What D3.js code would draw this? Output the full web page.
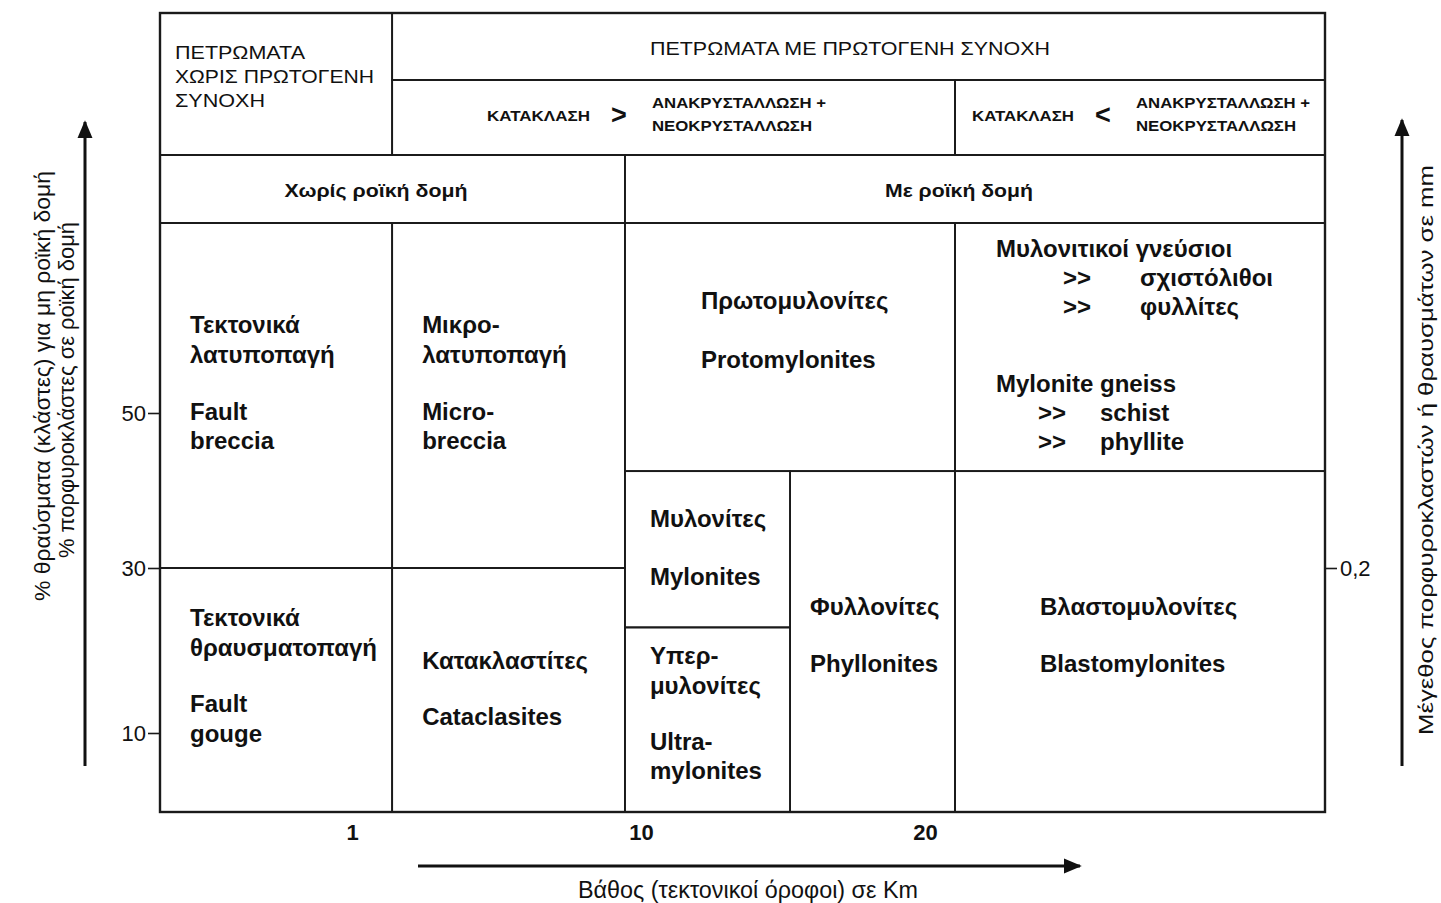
<!DOCTYPE html>
<html><head><meta charset="utf-8">
<script src="https://cdn.jsdelivr.net/npm/d3@7/dist/d3.min.js"></script>
<style>
body{margin:0;background:#fff}
text{font-family:"Liberation Sans",Arial,Helvetica,sans-serif;fill:#111}
</style>
</head><body>
<svg id="c" width="1441" height="903"></svg>
<script>
// ---------- DATA ----------
const depthTicks = [1, 10, 20];                 // km (bottom axis labels)
const pctTicks = [10, 30, 50];                  // % clasts (left axis)
const sizeTicks = [30];                         // right axis tick position (in % scale)
const sizeTickLabels = ["0,2"];                 // mm
const depthEdges = [0, 2.25, 9.5, 15.25, 20.75, 30];   // column boundaries, km
const pctEdges = [0, 22.8, 30, 42.5, 75];              // row boundaries, %

const xTitle = "Βάθος (τεκτονικοί όροφοι) σε Km";
const yTitle1 = "% θραύσματα (κλάστες) για μη ροϊκή δομή";
const yTitle2 = "% πορφυροκλάστες σε ροϊκή δομή";
const y2Title = "Μέγεθος πορφυροκλαστών ή θραυσμάτων σε mm";

// classification cells: depth range (km) x clast range (%)
const cells = [
  {x0:0,     x1:2.25,  y0:30,   y1:75,   lines:[["Τεκτονικά",30,110],["λατυποπαγή",30,140],["Fault",30,197],["breccia",30,226]]},
  {x0:2.25,  x1:9.5,   y0:30,   y1:75,   lines:[["Μικρο-",30,110],["λατυποπαγή",30,140],["Micro-",30,197],["breccia",30,226]]},
  {x0:0,     x1:2.25,  y0:0,    y1:30,   lines:[["Τεκτονικά",30,58],["θραυσματοπαγή",30,88],["Fault",30,144],["gouge",30,174]]},
  {x0:2.25,  x1:9.5,   y0:0,    y1:30,   lines:[["Κατακλαστίτες",30,101],["Cataclasites",30,157]]},
  {x0:9.5,   x1:20.75, y0:42.5, y1:75,   lines:[["Πρωτομυλονίτες",76,86],["Protomylonites",76,145]]},
  {x0:20.75, x1:30,    y0:42.5, y1:75,   lines:[["Μυλονιτικοί γνεύσιοι",41,34],[">>",108,63],["σχιστόλιθοι",185,63],[">>",108,92],["φυλλίτες",185,92],
                                                ["Mylonite gneiss",41,169],[">>",83,198],["schist",145,198],[">>",83,227],["phyllite",145,227]]},
  {x0:9.5,   x1:15.25, y0:22.8, y1:42.5, lines:[["Μυλονίτες",25,56],["Mylonites",25,114]]},
  {x0:9.5,   x1:15.25, y0:0,    y1:22.8, lines:[["Υπερ-",25,37],["μυλονίτες",25,67],["Ultra-",25,123],["mylonites",25,152]]},
  {x0:15.25, x1:20.75, y0:0,    y1:42.5, lines:[["Φυλλονίτες",20,144],["Phyllonites",20,201]]},
  {x0:20.75, x1:30,    y0:0,    y1:42.5, lines:[["Βλαστομυλονίτες",85,144],["Blastomylonites",85,201]]}
];

// header cells: depth range and header row index range
const headerRows = [13, 80, 155, 223];
const headers = [
  {x0:0,     x1:2.25,  r0:0, r1:2},
  {x0:2.25,  x1:30,    r0:0, r1:1},
  {x0:2.25,  x1:20.75, r0:1, r1:2},
  {x0:20.75, x1:30,    r0:1, r1:2},
  {x0:0,     x1:9.5,   r0:2, r1:3},
  {x0:9.5,   x1:30,    r0:2, r1:3}
];

// ---------- SCALES ----------
const svg = d3.select("#c");
const x = d3.scaleLinear().domain([0, 1, 10, 20, 30]).range([160, 352, 641, 925, 1325]);
const y = d3.scaleLinear().domain([0, 10, 30, 50, 75]).range([812, 733, 568, 413, 223]);

const stroke = "#1a1a1a";

// header cells
svg.append("g").selectAll("rect").data(headers).join("rect")
  .attr("x", d => x(d.x0)).attr("width", d => x(d.x1) - x(d.x0))
  .attr("y", d => headerRows[d.r0]).attr("height", d => headerRows[d.r1] - headerRows[d.r0])
  .attr("fill", "none").attr("stroke", stroke).attr("stroke-width", 1.8);

// classification cells
const cg = svg.append("g").selectAll("g").data(cells).join("g");
cg.append("rect")
  .attr("x", d => x(d.x0)).attr("width", d => x(d.x1) - x(d.x0))
  .attr("y", d => y(d.y1)).attr("height", d => y(d.y0) - y(d.y1))
  .attr("fill", "none").attr("stroke", stroke).attr("stroke-width", 1.8);
cg.selectAll("text").data(d => d.lines.map(l => ({t:l[0], x:x(d.x0)+l[1], y:y(d.y1)+l[2]}))).join("text")
  .attr("x", d => d.x).attr("y", d => d.y)
  .attr("font-size", 24).attr("font-weight", "bold")
  .text(d => d.t);

// outer frame
svg.append("rect").attr("x", x(0)).attr("y", headerRows[0])
  .attr("width", x(30) - x(0)).attr("height", y(0) - headerRows[0])
  .attr("fill", "none").attr("stroke", stroke).attr("stroke-width", 2.4);

// header texts
function ht(txt, xx, yy, size, weight, len, anchor){
  const t = svg.append("text").attr("x", xx).attr("y", yy).attr("font-size", size)
    .attr("font-weight", weight || "normal").text(txt);
  if (anchor) t.attr("text-anchor", anchor);
  if (len) t.attr("textLength", len).attr("lengthAdjust", "spacingAndGlyphs");
  return t;
}
ht("ΠΕΤΡΩΜΑΤΑ", 175, 59, 18, "normal", 130);
ht("ΧΩΡΙΣ ΠΡΩΤΟΓΕΝΗ", 175, 83, 18, "normal", 199);
ht("ΣΥΝΟΧΗ", 175, 107, 18, "normal", 90);
ht("ΠΕΤΡΩΜΑΤΑ ΜΕ ΠΡΩΤΟΓΕΝΗ ΣΥΝΟΧΗ", 650, 55, 18, "normal", 400);
ht("ΚΑΤΑΚΛΑΣΗ", 487, 121, 14, "bold", 103);
ht(">", 611, 124, 27, "bold");
ht("ΑΝΑΚΡΥΣΤΑΛΛΩΣΗ +", 652, 108, 14, "bold", 174);
ht("ΝΕΟΚΡΥΣΤΑΛΛΩΣΗ", 652, 131, 14, "bold", 160);
ht("ΚΑΤΑΚΛΑΣΗ", 972, 121, 14, "bold", 102);
ht("<", 1095, 124, 27, "bold");
ht("ΑΝΑΚΡΥΣΤΑΛΛΩΣΗ +", 1136, 108, 14, "bold", 174);
ht("ΝΕΟΚΡΥΣΤΑΛΛΩΣΗ", 1136, 131, 14, "bold", 160);
ht("Χωρίς ροϊκή δομή", 376, 197, 19, "bold", 183, "middle");
ht("Με ροϊκή δομή", 959, 197, 19, "bold", 148, "middle");

// axes
const ax = svg.append("g").attr("transform", `translate(${x(0)},0)`)
  .call(d3.axisLeft(y).tickValues(pctTicks).tickSize(12).tickPadding(2));
ax.select(".domain").remove();
ax.selectAll("line").attr("stroke", stroke).attr("stroke-width", 1.6);
ax.selectAll("text").attr("font-size", 22).attr("font-family", "Liberation Sans, Arial").attr("fill", "#111");

const ar = svg.append("g").attr("transform", `translate(${x(30)},0)`)
  .call(d3.axisRight(y).tickValues(sizeTicks).tickFormat((d,i) => sizeTickLabels[i]).tickSize(12).tickPadding(3));
ar.select(".domain").remove();
ar.selectAll("line").attr("stroke", stroke).attr("stroke-width", 1.6);
ar.selectAll("text").attr("font-size", 22).attr("font-family", "Liberation Sans, Arial").attr("fill", "#111");

const ab = svg.append("g").attr("transform", `translate(0,${y(0)})`)
  .call(d3.axisBottom(x).tickValues(depthTicks).tickFormat(d3.format("d")).tickSize(0).tickPadding(12));
ab.select(".domain").remove();
ab.selectAll("text").attr("font-size", 22).attr("font-weight", "bold").attr("font-family", "Liberation Sans, Arial").attr("fill", "#111");

// arrows
const defs = svg.append("defs");
defs.append("marker").attr("id", "ah").attr("viewBox", "0 0 10 10").attr("refX", 9).attr("refY", 5)
  .attr("markerWidth", 6).attr("markerHeight", 6).attr("markerUnits", "strokeWidth").attr("orient", "auto")
  .append("path").attr("d", "M0,0.8 L10,5 L0,9.2 Z").attr("fill", "#111");
function arrow(x1, y1, x2, y2){
  svg.append("line").attr("x1", x1).attr("y1", y1).attr("x2", x2).attr("y2", y2)
    .attr("stroke", "#111").attr("stroke-width", 3).attr("marker-end", "url(#ah)");
}
arrow(85, 766, 85, 122);
arrow(1402, 766, 1402, 120);
arrow(418, 866, 1080, 866);

// titles
svg.append("text").attr("x", 748).attr("y", 898).attr("text-anchor", "middle").attr("font-size", 23)
  .attr("textLength", 340).attr("lengthAdjust", "spacingAndGlyphs").text(xTitle);
svg.append("text").attr("transform", "translate(50,386) rotate(-90)").attr("text-anchor", "middle").attr("font-size", 22)
  .attr("textLength", 430).attr("lengthAdjust", "spacingAndGlyphs").text(yTitle1);
svg.append("text").attr("transform", "translate(74,390) rotate(-90)").attr("text-anchor", "middle").attr("font-size", 22)
  .attr("textLength", 336).attr("lengthAdjust", "spacingAndGlyphs").text(yTitle2);
svg.append("text").attr("transform", "translate(1433,450) rotate(-90)").attr("text-anchor", "middle").attr("font-size", 21)
  .attr("textLength", 570).attr("lengthAdjust", "spacingAndGlyphs").text(y2Title);
</script>
</body></html>
